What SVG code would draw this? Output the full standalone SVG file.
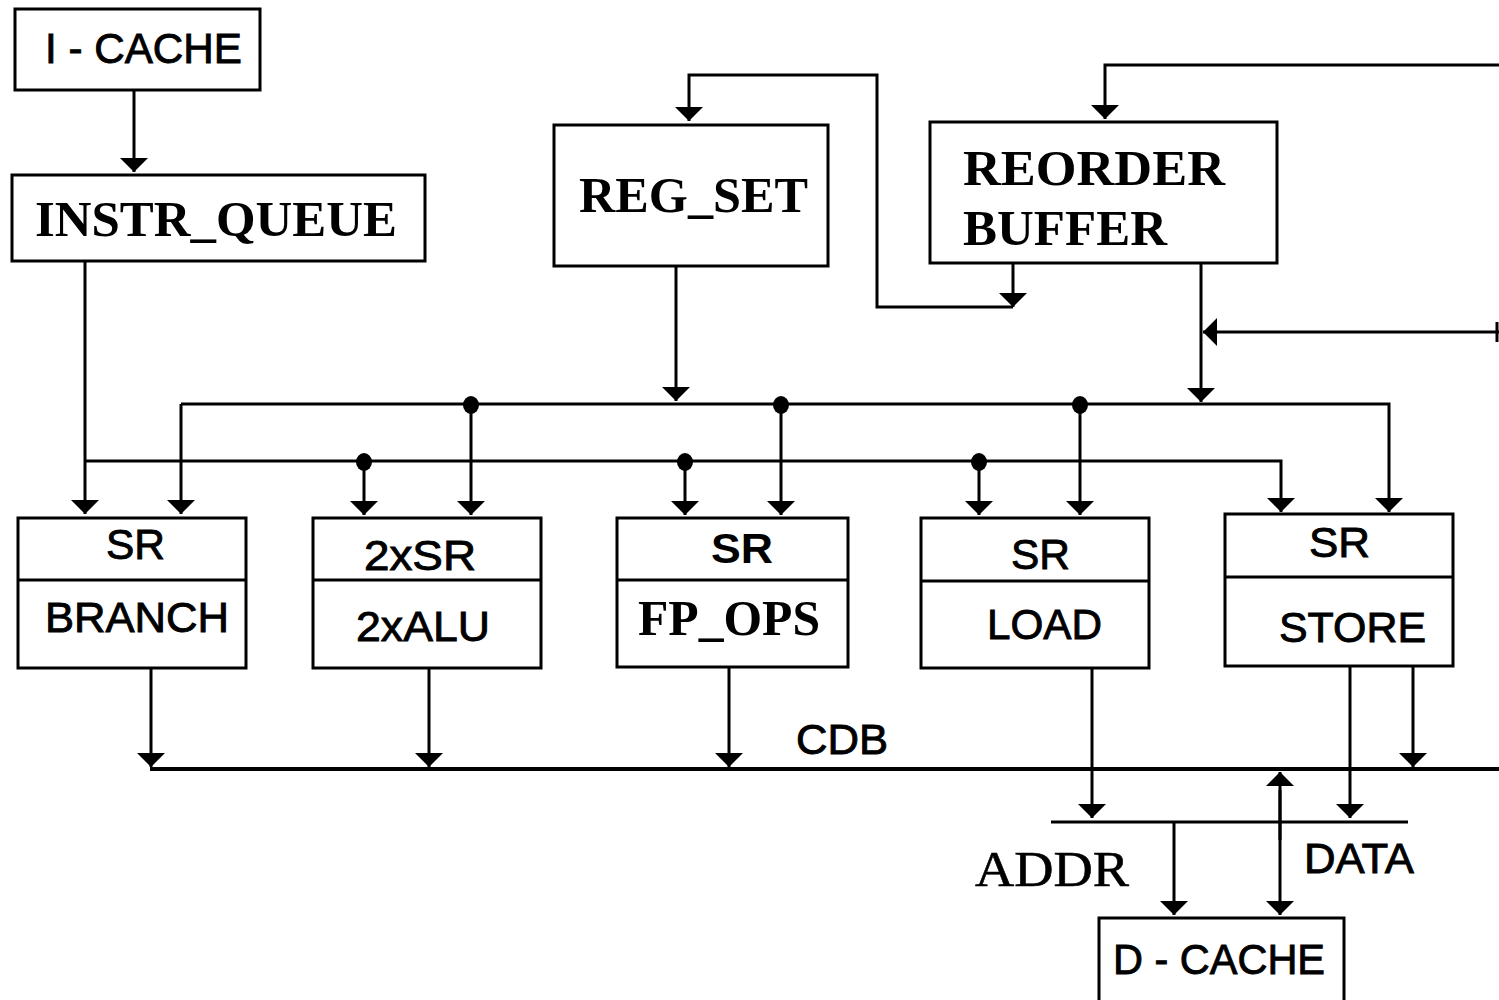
<svg xmlns="http://www.w3.org/2000/svg" width="1499" height="1000" viewBox="0 0 1499 1000">
<style>
.box{fill:#fff;stroke:#000;stroke-width:3}
.ln{fill:none;stroke:#000;stroke-width:3}
.arr{marker-end:url(#ah)}
.sans{font-family:"Liberation Sans",Arial,sans-serif;font-size:43px;fill:#000;stroke:#000;stroke-width:0.9}
.sansb{font-family:"Liberation Sans",Arial,sans-serif;font-size:43px;font-weight:bold;fill:#000}
.serif{font-family:"Liberation Serif","Times New Roman",serif;font-size:50px;font-weight:bold;fill:#000}
.serifr{font-family:"Liberation Serif","Times New Roman",serif;font-size:50px;fill:#000;stroke:#000;stroke-width:0.6}
.dot{fill:#000}
</style>
<defs>
<marker id="ah" markerUnits="userSpaceOnUse" viewBox="0 0 14 28" refX="14" refY="14" markerWidth="14" markerHeight="28" orient="auto">
<path d="M0,0 L14,14 L0,28 z" fill="#000"/>
</marker>
</defs>
<rect width="1499" height="1000" fill="#fff"/>

<g id="connectors">
<path class="ln arr" d="M134,90 V172"/>
<path class="ln arr" d="M85,261 V514"/>
<path class="ln arr" d="M85,461 H1281 V512"/>
<path class="ln arr" d="M676,266 V401"/>
<path class="ln arr" d="M181,404 V514"/>
<path class="ln arr" d="M181,404 H1389 V512"/>
<path class="ln arr" d="M1201,264 V402"/>
<path class="ln arr" d="M1499,332 H1203"/>
<path class="ln" d="M1497,322 V342"/>
<path class="ln arr" d="M1499,65 H1105 V119"/>
<path class="ln arr" d="M1013,264 V307"/>
<path class="ln arr" d="M1013,307 H877 V75 H689 V121"/>
<path class="ln arr" d="M364,461 V515"/>
<path class="ln arr" d="M471,404 V515"/>
<path class="ln arr" d="M685,461 V515"/>
<path class="ln arr" d="M781,404 V515"/>
<path class="ln arr" d="M979,461 V515"/>
<path class="ln arr" d="M1080,404 V515"/>
<ellipse class="dot" cx="471" cy="405" rx="8" ry="9"/>
<ellipse class="dot" cx="781" cy="405" rx="8" ry="9"/>
<ellipse class="dot" cx="1080" cy="405" rx="8" ry="9"/>
<ellipse class="dot" cx="364" cy="462" rx="8" ry="9"/>
<ellipse class="dot" cx="685" cy="462" rx="8" ry="9"/>
<ellipse class="dot" cx="979" cy="462" rx="8" ry="9"/>
<path d="M150,769 H1499" fill="none" stroke="#000" stroke-width="4"/>
<path class="ln arr" d="M151,668 V767"/>
<path class="ln arr" d="M429,668 V767"/>
<path class="ln arr" d="M729,668 V767"/>
<path class="ln arr" d="M1413,666 V767"/>
<path class="ln arr" d="M1092,668 V818"/>
<path class="ln arr" d="M1350,666 V818"/>
<path class="ln" d="M1051,822 H1408"/>
<path class="ln arr" d="M1174,822 V915"/>
<path class="ln arr" d="M1280,840 V772"/>
<path class="ln arr" d="M1280,790 V915"/>
</g>

<g id="icache">
<rect class="box" x="15" y="9" width="245" height="81"/>
<text class="sans" x="45" y="63" textLength="197" lengthAdjust="spacingAndGlyphs">I - CACHE</text>
</g>
<g id="instr_queue">
<rect class="box" x="12" y="175" width="413" height="86"/>
<text class="serif" x="35" y="236" textLength="362" lengthAdjust="spacingAndGlyphs">INSTR_QUEUE</text>
</g>
<g id="reg_set">
<rect class="box" x="554" y="125" width="274" height="141"/>
<text class="serif" x="579" y="212" textLength="229" lengthAdjust="spacingAndGlyphs">REG_SET</text>
</g>
<g id="reorder_buffer">
<rect class="box" x="930" y="122" width="347" height="141"/>
<text class="serif" x="963" y="185" textLength="262" lengthAdjust="spacingAndGlyphs">REORDER</text>
<text class="serif" x="963" y="245" textLength="204" lengthAdjust="spacingAndGlyphs">BUFFER</text>
</g>
<g id="sr_branch">
<rect class="box" x="18" y="518" width="228" height="150"/>
<path class="ln" d="M18,580 H246"/>
<text class="sans" x="106" y="559" textLength="59" lengthAdjust="spacingAndGlyphs">SR</text>
<text class="sans" x="45" y="632" textLength="184" lengthAdjust="spacingAndGlyphs">BRANCH</text>
</g>
<g id="sr_alu">
<rect class="box" x="313" y="518" width="228" height="150"/>
<path class="ln" d="M313,580 H541"/>
<text class="sans" x="364" y="570" textLength="112" lengthAdjust="spacingAndGlyphs">2xSR</text>
<text class="sans" x="356" y="641" textLength="134" lengthAdjust="spacingAndGlyphs">2xALU</text>
</g>
<g id="sr_fp">
<rect class="box" x="617" y="518" width="231" height="149"/>
<path class="ln" d="M617,580 H848"/>
<text class="sansb" x="711" y="563" textLength="62" lengthAdjust="spacingAndGlyphs">SR</text>
<text class="serif" x="638" y="635" textLength="182" lengthAdjust="spacingAndGlyphs">FP_OPS</text>
</g>
<g id="sr_load">
<rect class="box" x="921" y="518" width="228" height="150"/>
<path class="ln" d="M921,581 H1149"/>
<text class="sans" x="1011" y="569" textLength="59" lengthAdjust="spacingAndGlyphs">SR</text>
<text class="sans" x="987" y="639" textLength="115" lengthAdjust="spacingAndGlyphs">LOAD</text>
</g>
<g id="sr_store">
<rect class="box" x="1225" y="514" width="228" height="152"/>
<path class="ln" d="M1225,577 H1453"/>
<text class="sans" x="1309" y="557" textLength="61" lengthAdjust="spacingAndGlyphs">SR</text>
<text class="sans" x="1279" y="642" textLength="147" lengthAdjust="spacingAndGlyphs">STORE</text>
</g>
<g id="labels">
<text class="sans" x="796" y="754" textLength="92" lengthAdjust="spacingAndGlyphs">CDB</text>
<text class="serifr" x="975" y="886" textLength="154" lengthAdjust="spacingAndGlyphs">ADDR</text>
<text class="sans" x="1304" y="873" textLength="110" lengthAdjust="spacingAndGlyphs">DATA</text>
</g>
<g id="dcache">
<rect class="box" x="1099" y="918" width="245" height="90"/>
<text class="sans" x="1113" y="974" textLength="212" lengthAdjust="spacingAndGlyphs">D - CACHE</text>
</g>
</svg>
